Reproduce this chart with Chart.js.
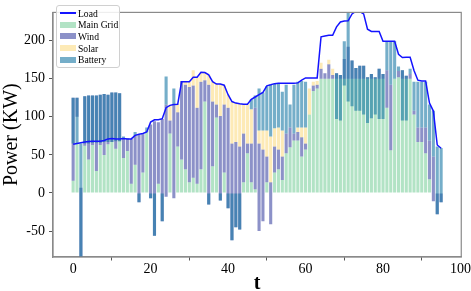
<!DOCTYPE html>
<html>
<head>
<meta charset="utf-8">
<script src="https://cdn.jsdelivr.net/npm/chart.js@4.4.1/dist/chart.umd.min.js"></script>
<style>
  html, body { margin: 0; padding: 0; background: #fff; }
  #wrap { position: relative; width: 471px; height: 291px; }
  #legend {
    position: absolute; left: 56px; top: 5px; width: 59px;
    padding: 1.5px 0 1.5px 3px; border: 1px solid #d0d0d0; border-radius: 3px;
    background: rgba(255,255,255,0.85);
    font: 9.6px "Liberation Serif", "Times New Roman", serif; color: #000;
  }
  .item { display: flex; align-items: center; height: 11.6px; white-space: nowrap; }
  .sw { width: 16px; height: 6px; margin-right: 2px; flex: none; }
  .sw.line { height: 2px; }
</style>
</head>
<body>
<div id="wrap">
  <canvas id="powerChart" width="471" height="291"></canvas>
  <div id="legend"></div>
</div>
<script>
/* =========================
   DATA (kW per time step t = 0..95)
========================= */
const load = [
  64, 65, 66, 67, 67.5, 68, 68, 68, 69, 71, 71.5, 71, 71, 71.5, 71, 71,
  75.6, 77, 78, 80, 93, 96, 96, 97.5, 112, 115, 116, 116.5, 146, 146, 146, 152,
  152, 158.5, 158, 155, 146, 143, 143, 141.5, 129, 120, 118, 117, 116.5, 116.5, 123, 126,
  129, 132, 140.7, 142, 143.5, 144, 144, 144, 144, 144, 144.5, 148, 151, 151, 151, 151,
  205, 206, 207, 207, 218, 224.5, 225.6, 226, 235, 238.5, 238, 235, 215, 212, 212, 212,
  199, 199, 199, 199, 182, 177.7, 178, 178, 160.7, 148, 147, 147, 118, 107.5, 63, 58.7
];

// main grid: bar from 0 up to value
const mainGrid = [
  16, 65, 0, 62, 44, 63, 29, 63, 50, 64, 67, 58, 68, 46, 55, 12,
  37, 0, 27, 80, 0, 0, 12, 0, 0, 78, 0, 61, 44, 31, 14, 20,
  12, 31, 120, 0, 35, 99, 0, 27, 0, 0, 0, 0, 14, 52, 14, 5,
  0, 0, 14, 0, 27, 31, 17, 52, 60, 69, 69, 48, 57, 103, 134, 137,
  150, 150, 150, 150, 150, 150, 150, 150, 150, 150, 150, 150, 150, 150, 150, 150,
  150, 112, 56, 150, 152, 150, 150, 150, 103, 67, 67, 52, 18, 0, 0, 0
];

// floating ranges [from, to] as drawn in the stack, null = no bar
const wind = [
  [16,125], [100,125], [-85,7], [62,127], [44,128], [63,128], [29,128], [63,129],
  [50,130], [64,129], [67,132], [58,132], [68,131], [46,71], [55,71], [12,71],
  [37,76], [-12,76], [27,77], null, [-7,90], [-56,94], [12,93], [-37,97],
  [-5,116], [78,95], [-7,116], [61,106], [44,147], [31,142], [14,139], [20,141],
  [12,112], [31,146], [120,148], [-15,142], [35,120], [99,116], [-10,101], [27,116],
  [-20,112], [-62,65], [-45,67], [-48,61], [14,78], [52,65], [14,65], [5,112],
  [-50,65], [-37,57], [14,48], [-41,14], [27,61], [31,57], [17,48], [52,78],
  [60,86], [69,78], [69,80], [48,73], [57,65], null, [134,141], [137,142],
  [150,163], [150,157], [150,169], [150,155], [150,157], [150,155], [150,176], [150,192],
  [150,174], [150,164], [150,167], [150,167], [150,152], [150,156], [150,152], [150,163],
  [150,156], [112,161], [56,142], null, [152,160], [150,161], [150,154], [150,156],
  [103,108], [67,86], [67,86], [52,86], [18,69], [-11,48], [-28,0], [-12,0]
];

const solar = [
  null, null, null, null, null, null, null, null, null, null, null, null, null, null, null, null,
  null, null, null, null, null, null, null, null, null, [95,115], null, [106,117], null, [142,146], [139,146], [141,161],
  [112,152], [146,158], [148,158], [142,155], [120,146], [116,143], [101,143], [116,141],
  [112,129], [65,120], [67,118], [61,117], [78,116], [65,116], [65,110], null,
  [65,82], [57,82], [48,82], [14,74], [61,85], [57,86], [48,82], null,
  null, null, [80,86], [73,86], [65,86], [103,137], [141,146], [142,147],
  [163,171], null, [169,175], [155,163], null, null, null, null, null, null, null, null, null, null, null, null,
  null, null, null, null, null, null, null, null, null, null, null, null, null, null, null, null
];

const battery = [
  [65,125], [65,125], [-85,65], [65,127], [65,128], [66,128], [66,128], [66,129],
  [67,130], [67,129], [67,132], [68,132], [68,131], [71,74], [71,72], null,
  [76,80], [-12,0], [77,78], [80,86], [-7,0], [-56,0], null, [-37,0],
  [116,153], null, [116,137], null, null, null, null, null,
  null, null, null, [-15,0], null, null, [-10,0], null,
  [-20,0], [-62,0], [-45,0], [-48,0], null, null, [110,123], [112,128],
  [82,137], [82,132], [82,140], [74,142], [85,143], [86,144], [82,133], [78,142],
  [86,116], [78,142], [86,146], [86,147], [86,146], null, null, null,
  null, null, null, null, [97,157], [95,155], [141,199], [120,240],
  [114,174], [108,164], [108,167], [103,167], [92,152], [98,156], [103,152], [97,163],
  [97,156], [161,199], [142,199], [150,199], [160,166], [95,161], [95,154], [156,163],
  [108,146], [86,146], [86,146], [86,146], [69,116], [48,108], [-28,61], [-12,59]
];

const xTicks = [0, 20, 40, 60, 80, 100];
const yTicks = [-50, 0, 50, 100, 150, 200];

/* =========================
   STYLE
========================= */
const COLORS = {
  load: "#1414ff",
  grid: "rgba(102,200,140,0.5)",
  wind: "rgba(45,55,155,0.55)",
  solar: "rgba(252,214,110,0.5)",
  battery: "rgba(25,120,165,0.6)"
};
const serif = "'Liberation Serif', 'Times New Roman', serif";

const toBars = (arr) =>
  arr.map((v, i) => (v === null ? null : { x: i, y: v })).filter(Boolean);

const barStyle = {
  type: "bar",
  grouped: false,
  barPercentage: 0.8,
  categoryPercentage: 1,
  borderWidth: 0
};

// frame on all four sides, like the matplotlib box
const frame = {
  id: "frame",
  afterDatasetsDraw(chart) {
    const { ctx, chartArea: a } = chart;
    ctx.save();
    ctx.strokeStyle = "#8a8a8a";
    ctx.lineWidth = 1.2;
    ctx.strokeRect(a.left, a.top, a.right - a.left, a.bottom - a.top);
    ctx.restore();
  }
};

const canvas = document.getElementById("powerChart");

if (canvas) {
  new Chart(canvas, {
    type: "bar",
    data: {
      datasets: [
        {
          type: "line",
          label: "Load",
          data: load.map((v, i) => ({ x: i, y: v })),
          borderColor: COLORS.load,
          borderWidth: 1.5,
          pointRadius: 0,
          tension: 0,
          fill: false
        },
        { ...barStyle, label: "Battery", data: toBars(battery), backgroundColor: COLORS.battery },
        { ...barStyle, label: "Solar", data: toBars(solar), backgroundColor: COLORS.solar },
        { ...barStyle, label: "Wind", data: toBars(wind), backgroundColor: COLORS.wind },
        {
          ...barStyle,
          label: "Main Grid",
          data: toBars(mainGrid.map((v) => (v > 0 ? v : null))),
          backgroundColor: COLORS.grid
        }
      ]
    },
    options: {
      responsive: false,
      animation: false,
      devicePixelRatio: 1,
      layout: { padding: { top: 5, right: 7, left: 0, bottom: 0 } },
      plugins: { legend: { display: false }, tooltip: { enabled: false } },
      scales: {
        x: {
          type: "linear",
          min: -5.2,
          max: 100.2,
          offset: false,
          afterBuildTicks: (s) => { s.ticks = xTicks.map((v) => ({ value: v })); },
          afterFit: (s) => { s.height = 34; },
          grid: { display: true, drawOnChartArea: false, tickLength: 3.5, tickColor: "#555" },
          border: { display: true, color: "#8a8a8a", width: 1.2 },
          ticks: {
            padding: 0,
            color: "#000",
            maxRotation: 0,
            font: { family: serif, size: 14 },
            callback: (v) => v
          },
          title: {
            display: true,
            text: "t",
            color: "#000",
            padding: { top: 0, bottom: -3 },
            font: { family: serif, size: 20, weight: "bold", lineHeight: 1 }
          }
        },
        y: {
          min: -84,
          max: 237,
          afterBuildTicks: (s) => { s.ticks = yTicks.map((v) => ({ value: v })); },
          afterFit: (s) => { s.width = 53; },
          grid: { display: true, drawOnChartArea: false, tickLength: 4, tickColor: "#555" },
          border: { display: true, color: "#8a8a8a", width: 1.2 },
          ticks: {
            padding: 4,
            color: "#000",
            font: { family: serif, size: 14 },
            callback: (v) => v
          },
          title: {
            display: true,
            text: "Power (KW)",
            color: "#000",
            padding: { top: 0, bottom: 0 },
            font: { family: serif, size: 20 }
          }
        }
      }
    },
    plugins: [frame]
  });
}

/* =========================
   LEGEND – top left inside the plot
========================= */
const legendItems = [
  { name: "Load", color: COLORS.load, line: true },
  { name: "Main Grid", color: COLORS.grid },
  { name: "Wind", color: COLORS.wind },
  { name: "Solar", color: COLORS.solar },
  { name: "Battery", color: COLORS.battery }
];
const legendBox = document.getElementById("legend");
legendItems.forEach((it) => {
  const row = document.createElement("div");
  row.className = "item";
  const sw = document.createElement("span");
  sw.className = it.line ? "sw line" : "sw";
  sw.style.background = it.color;
  row.appendChild(sw);
  row.appendChild(document.createTextNode(it.name));
  legendBox.appendChild(row);
});
</script>
</body>
</html>
